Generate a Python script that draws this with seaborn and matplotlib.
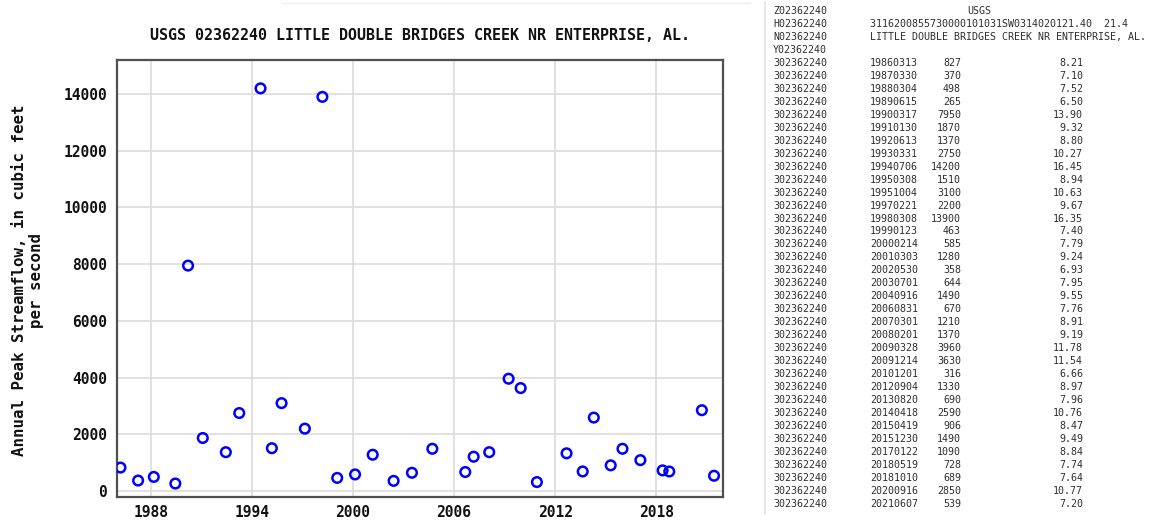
import matplotlib
matplotlib.use("Agg")
import matplotlib.pyplot as plt
from matplotlib.lines import Line2D
import seaborn as sns
import pandas as pd

# Annual peak streamflow record, USGS 02362240
station = "02362240"
peak_dates = ["19860313", "19870330", "19880304", "19890615", "19900317", "19910130",
              "19920613", "19930331", "19940706", "19950308", "19951004", "19970221",
              "19980308", "19990123", "20000214", "20010303", "20020530", "20030701",
              "20040916", "20060831", "20070301", "20080201", "20090328", "20091214",
              "20101201", "20120904", "20130820", "20140418", "20150419", "20151230",
              "20170122", "20180519", "20181010", "20200916", "20210607"]
peak_flow = [827, 370, 498, 265, 7950, 1870, 1370, 2750, 14200, 1510, 3100, 2200,
             13900, 463, 585, 1280, 358, 644, 1490, 670, 1210, 1370, 3960, 3630,
             316, 1330, 690, 2590, 906, 1490, 1090, 728, 689, 2850, 539]
gage_height = ["8.21", "7.10", "7.52", "6.50", "13.90", "9.32", "8.80", "10.27", "16.45",
               "8.94", "10.63", "9.67", "16.35", "7.40", "7.79", "9.24", "6.93", "7.95",
               "9.55", "7.76", "8.91", "9.19", "11.78", "11.54", "6.66", "8.97", "7.96",
               "10.76", "8.47", "9.49", "8.84", "7.74", "7.64", "10.77", "7.20"]
x_ticks = [1988, 1994, 2000, 2006, 2012, 2018]
y_ticks = [0, 2000, 4000, 6000, 8000, 10000, 12000, 14000]
title = "USGS 02362240 LITTLE DOUBLE BRIDGES CREEK NR ENTERPRISE, AL."
y_label = "Annual Peak Streamflow, in cubic feet\nper second"
header_rows = [("Z" + station, "", "USGS"),
               ("H" + station, "3116200855730000101031SW0314020121.40  21.4", ""),
               ("N" + station, "LITTLE DOUBLE BRIDGES CREEK NR ENTERPRISE, AL.", ""),
               ("Y" + station, "", "")]

# Peak dates as fractional years for the time axis
dt = pd.to_datetime(pd.Series(peak_dates), format="%Y%m%d")
year_start = pd.to_datetime(dt.dt.year.astype(str) + "-01-01")
days_in_year = 365 + dt.dt.is_leap_year.astype(int)
decimal_year = dt.dt.year + (dt - year_start).dt.days / days_in_year
df = pd.DataFrame({"year": decimal_year, "flow": peak_flow})

sns.set_style("white")
plt.rcParams["font.family"] = ["DejaVu Sans Mono"]

W, H = 1151, 525
fig = plt.figure(figsize=(W / 100, H / 100), dpi=100)
fig.patch.set_facecolor("white")

left, right, top, bottom = 116.7, 723.3, 60.0, 496.7
ax = fig.add_axes([left / W, 1 - bottom / H, (right - left) / W, (bottom - top) / H])

sns.scatterplot(data=df, x="year", y="flow", ax=ax, marker="o", s=48,
                facecolor="none", edgecolor="#0000ff", linewidth=1.8, zorder=3)
pts = ax.collections[0]
pts.set_facecolor("none")
pts.set_edgecolor("#0000ff")
pts.set_linewidth(1.8)

ax.set_xlim(1985.97, 2021.98)
ax.set_ylim(-200, 15200)
ax.set_xticks(x_ticks)
ax.set_yticks(y_ticks)
ax.set_xticklabels([str(t) for t in x_ticks])
ax.set_yticklabels([str(t) for t in y_ticks])
ax.grid(True, color="#dcdcdc", linewidth=1.2, zorder=0)
ax.set_axisbelow(True)
ax.tick_params(axis="both", length=0, labelsize=10.5, colors="#111111")
ax.tick_params(axis="x", pad=6)
ax.tick_params(axis="y", pad=7)
for lbl in ax.get_xticklabels() + ax.get_yticklabels():
    lbl.set_fontweight("bold")
for sp in ax.spines.values():
    sp.set_color("#505050")
    sp.set_linewidth(1.6)
ax.set_xlabel("")
ax.set_ylabel("")

fig.text(420 / W, 1 - 35 / H, title, ha="center", va="center",
         fontsize=10.8, fontweight="bold", color="#111111")
fig.text(28 / W, 1 - 280 / H, y_label, rotation=90, ha="center", va="center",
         multialignment="center", fontsize=11.3, fontweight="bold", color="#111111")

# Raw peak-flow listing beside the chart
fig.add_artist(Line2D([765 / W, 765 / W], [1 - 2 / H, 1 - 514 / H],
                      color="#e2e2e2", linewidth=1.2, transform=fig.transFigure))
fig.add_artist(Line2D([282 / W, 750 / W], [1 - 3 / H, 1 - 3 / H],
                      color="#efefef", linewidth=1.0, transform=fig.transFigure))

tcolor = "#2e2e2e"
tsize = 7.2
row0, step = 11.0, 12.97
for i, (sid, mid, right_txt) in enumerate(header_rows):
    y = 1 - (row0 + i * step) / H
    fig.text(773 / W, y, sid, ha="left", va="center", fontsize=tsize, color=tcolor)
    if mid:
        fig.text(870 / W, y, mid, ha="left", va="center", fontsize=tsize, color=tcolor)
    if right_txt:
        fig.text(967 / W, y, right_txt, ha="left", va="center", fontsize=tsize, color=tcolor)

for j, (d, q, gh) in enumerate(zip(peak_dates, peak_flow, gage_height)):
    y = 1 - (row0 + (j + len(header_rows)) * step) / H
    fig.text(773 / W, y, "3" + station, ha="left", va="center", fontsize=tsize, color=tcolor)
    fig.text(870 / W, y, d, ha="left", va="center", fontsize=tsize, color=tcolor)
    fig.text(961 / W, y, str(q), ha="right", va="center", fontsize=tsize, color=tcolor)
    fig.text(1083 / W, y, gh, ha="right", va="center", fontsize=tsize, color=tcolor)

fig.savefig("out.png", dpi=100, facecolor="white")
